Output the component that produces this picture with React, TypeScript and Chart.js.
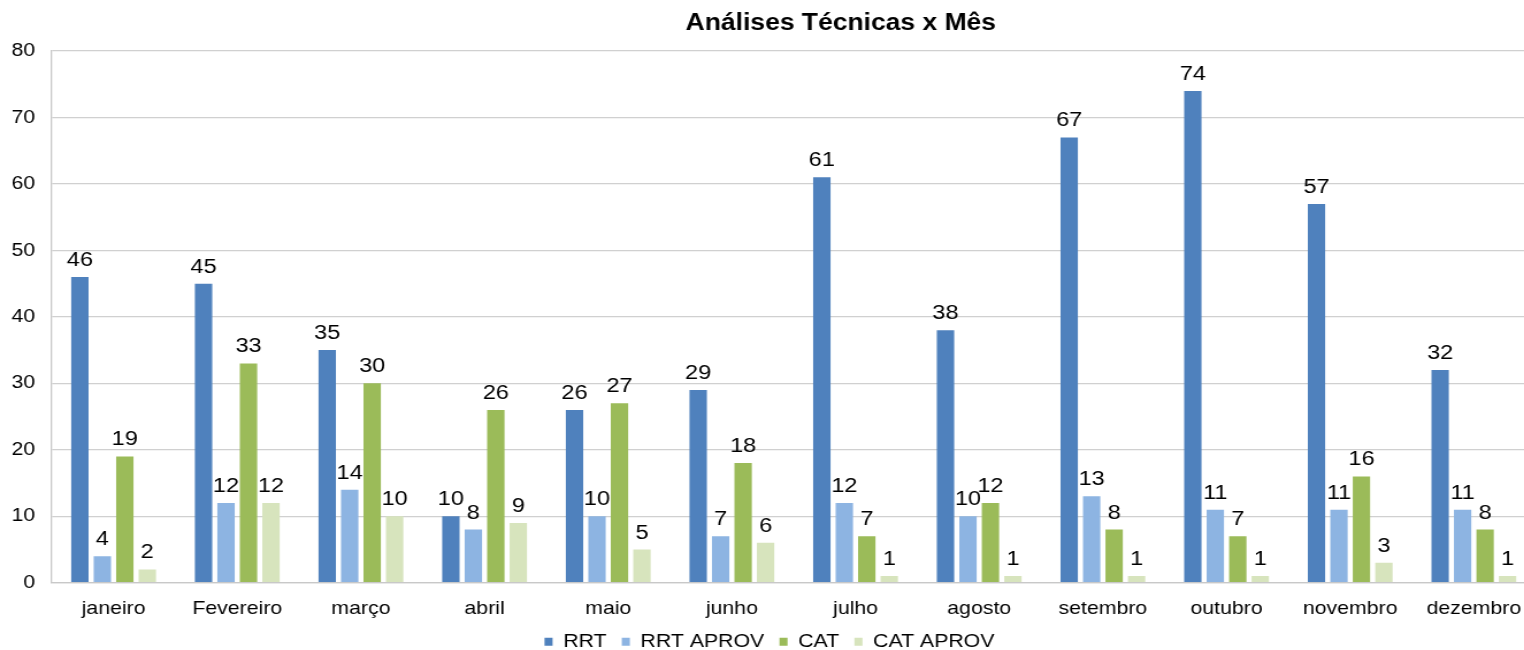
import React, { useEffect, useRef } from "react";
import { Chart, registerables } from "chart.js";

Chart.register(...registerables);

const months = [
  "janeiro", "Fevereiro", "março", "abril", "maio", "junho",
  "julho", "agosto", "setembro", "outubro", "novembro", "dezembro",
];
const rrt = [46, 45, 35, 10, 26, 29, 61, 38, 67, 74, 57, 32];
const rrtAprov = [4, 12, 14, 8, 10, 7, 12, 10, 13, 11, 11, 11];
const cat = [19, 33, 30, 26, 27, 18, 7, 12, 8, 7, 16, 8];
const catAprov = [2, 12, 10, 9, 5, 6, 1, 1, 1, 1, 3, 1];
const seriesNames = ["RRT", "RRT APROV", "CAT", "CAT APROV"];
const seriesColors = ["#4F81BD", "#8DB4E2", "#9BBB59", "#D7E4BD"];
const yMin = 0;
const yMax = 80;
const yStep = 10;
const TITLE = "Análises Técnicas x Mês";

const FONT = "'Liberation Sans', Arial, Helvetica, sans-serif";
const STRETCH = 1.15;
const CANVAS_W = 1338;
const CANVAS_H = 661;

const valueLabels = {
  id: "valueLabels",
  afterDatasetsDraw(chart: any) {
    const ctx = chart.ctx;
    ctx.save();
    ctx.font = `20.5px ${FONT}`;
    ctx.fillStyle = "#000";
    ctx.textAlign = "center";
    ctx.textBaseline = "alphabetic";
    chart.data.datasets.forEach((ds: any, i: number) => {
      const meta = chart.getDatasetMeta(i);
      meta.data.forEach((bar: any, j: number) => {
        ctx.fillText(String(ds.data[j]), bar.x, bar.y - 11);
      });
    });
    ctx.restore();
  },
};

const titleText = {
  id: "titleText",
  afterDraw(chart: any) {
    const ctx = chart.ctx;
    ctx.save();
    ctx.font = `bold 23px ${FONT}`;
    ctx.fillStyle = "#000";
    ctx.textAlign = "center";
    ctx.textBaseline = "alphabetic";
    ctx.fillText(TITLE, 731, 30);
    ctx.restore();
  },
};

export default function App() {
  const ref = useRef<HTMLCanvasElement>(null);

  useEffect(() => {
    const values = [rrt, rrtAprov, cat, catAprov];
    const chart = new Chart(ref.current as HTMLCanvasElement, {
      type: "bar",
      data: {
        labels: months,
        datasets: values.map((v, i) => ({
          label: seriesNames[i],
          data: v,
          backgroundColor: seriesColors[i],
          borderWidth: 0,
        })),
      },
      options: {
        responsive: false,
        animation: false,
        devicePixelRatio: 1,
        layout: { padding: { top: 51, left: 0, right: 0, bottom: 0 } },
        datasets: { bar: { categoryPercentage: 0.727, barPercentage: 0.773 } },
        plugins: {
          title: { display: false },
          tooltip: { enabled: false },
          legend: {
            position: "bottom",
            labels: {
              boxWidth: 7,
              boxHeight: 8,
              padding: 13.25,
              color: "#000",
              font: { family: FONT, size: 18.5 },
            },
          },
        },
        scales: {
          x: {
            grid: { display: false, drawTicks: false },
            border: { display: true, color: "#C8C8C8", width: 1.3 },
            ticks: {
              color: "#000",
              font: { family: FONT, size: 18.5 },
              padding: 15.5,
              maxRotation: 0,
              autoSkip: false,
            },
            afterFit: (s: any) => {
              s.height = 36.5;
            },
          },
          y: {
            min: yMin,
            max: yMax,
            ticks: {
              stepSize: yStep,
              color: "#000",
              font: { family: FONT, size: 18.5 },
              padding: 14.5,
            },
            grid: { color: "#D0D0D0", lineWidth: 1.3, drawTicks: false },
            border: { display: true, color: "#C8C8C8", width: 1.3 },
            afterFit: (s: any) => {
              s.width = 45;
            },
          },
        },
      } as any,
      plugins: [valueLabels, titleText],
    });
    return () => chart.destroy();
  }, []);

  return (
    <div
      style={{
        position: "fixed",
        left: 0,
        top: 0,
        width: 1524,
        height: 650,
        overflow: "hidden",
        background: "#fff",
      }}
    >
      <canvas
        ref={ref}
        width={CANVAS_W}
        height={CANVAS_H}
        style={{
          display: "block",
          width: `${CANVAS_W * STRETCH}px`,
          height: `${CANVAS_H}px`,
        }}
      />
    </div>
  );
}
